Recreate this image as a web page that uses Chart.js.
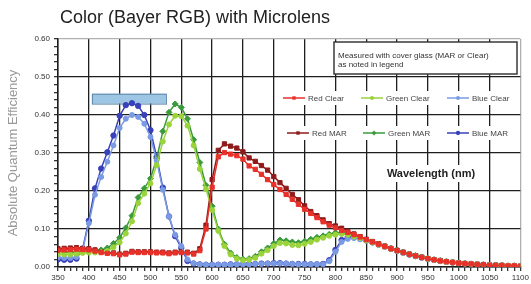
<!DOCTYPE html>
<html>
<head>
<meta charset="utf-8">
<title>Color (Bayer RGB) with Microlens</title>
<script src="https://cdn.jsdelivr.net/npm/chart.js"></script>
<style>
  html, body { margin: 0; padding: 0; background: #fff; }
  .chart-box { width: 531px; height: 284px; position: relative; }
</style>
</head>
<body>
<div class="chart-box"><canvas id="qeChart"></canvas></div>
<script>
// wavelength in nm, one reading every 10 nm
const wavelengths = [350, 360, 370, 380, 390, 400, 410, 420, 430, 440, 450, 460, 470, 480, 490, 500,
  510, 520, 530, 540, 550, 560, 570, 580, 590, 600, 610, 620, 630, 640, 650, 660, 670, 680, 690, 700,
  710, 720, 730, 740, 750, 760, 770, 780, 790, 800, 810, 820, 830, 840, 850, 860, 870, 880, 890, 900,
  910, 920, 930, 940, 950, 960, 970, 980, 990, 1000, 1010, 1020, 1030, 1040, 1050, 1060, 1070, 1080, 1090, 1100];

const redClear = [0.044, 0.045, 0.046, 0.047, 0.046, 0.045,
  0.042, 0.038, 0.036, 0.035, 0.032, 0.034, 0.039, 0.038, 0.038, 0.038,
  0.037, 0.037, 0.035, 0.037, 0.038, 0.037, 0.034, 0.043, 0.100, 0.210,
  0.290, 0.301, 0.297, 0.293, 0.284, 0.266, 0.257, 0.244, 0.230, 0.217,
  0.204, 0.191, 0.178, 0.165, 0.152, 0.141, 0.130, 0.119, 0.110, 0.103,
  0.096, 0.091, 0.085, 0.079, 0.072, 0.066, 0.060, 0.054, 0.048, 0.043,
  0.038, 0.033, 0.029, 0.025, 0.022, 0.019, 0.016, 0.014, 0.012, 0.010,
  0.009, 0.008, 0.007, 0.006, 0.005, 0.004, 0.004, 0.003, 0.003, 0.002];

const greenClear = [0.034, 0.033, 0.033, 0.035, 0.037, 0.038,
  0.038, 0.039, 0.042, 0.052, 0.065, 0.088, 0.120, 0.168, 0.193, 0.220,
  0.268, 0.330, 0.375, 0.398, 0.397, 0.372, 0.320, 0.258, 0.205, 0.150,
  0.095, 0.055, 0.033, 0.022, 0.018, 0.019, 0.024, 0.035, 0.044, 0.055,
  0.063, 0.062, 0.058, 0.057, 0.061, 0.066, 0.072, 0.077, 0.082, 0.085,
  0.087, 0.085, 0.080, 0.076, 0.070, 0.065, 0.059, 0.054, 0.048, 0.043,
  0.038, 0.033, 0.029, 0.025, 0.022, 0.019, 0.016, 0.014, 0.012, 0.010,
  0.009, 0.008, 0.007, 0.006, 0.005, 0.004, 0.004, 0.003, 0.003, 0.002];

const blueClear = [0.025, 0.024, 0.024, 0.026, 0.045, 0.115,
  0.190, 0.237, 0.277, 0.320, 0.366, 0.390, 0.400, 0.395, 0.377, 0.342,
  0.281, 0.203, 0.133, 0.085, 0.055, 0.020, 0.010, 0.007, 0.006, 0.006,
  0.006, 0.006, 0.006, 0.007, 0.007, 0.007, 0.008, 0.008, 0.009, 0.009,
  0.009, 0.009, 0.008, 0.007, 0.007, 0.007, 0.007, 0.007, 0.015, 0.040,
  0.066, 0.074, 0.076, 0.073, 0.069, 0.064, 0.058, 0.053, 0.047, 0.042,
  0.037, 0.032, 0.028, 0.024, 0.021, 0.018, 0.016, 0.013, 0.011, 0.010,
  0.009, 0.008, 0.007, 0.006, 0.005, 0.004, 0.003, 0.003, 0.003, 0.002];

const redMAR = [0.048, 0.049, 0.050, 0.051, 0.049, 0.048,
  0.045, 0.040, 0.038, 0.037, 0.034, 0.036, 0.041, 0.040, 0.040, 0.040,
  0.039, 0.039, 0.037, 0.039, 0.040, 0.039, 0.036, 0.048, 0.110, 0.230,
  0.307, 0.324, 0.318, 0.313, 0.303, 0.287, 0.278, 0.267, 0.255, 0.238,
  0.222, 0.207, 0.191, 0.177, 0.161, 0.146, 0.135, 0.124, 0.114, 0.108,
  0.102, 0.094, 0.087, 0.080, 0.073, 0.067, 0.061, 0.055, 0.049, 0.044,
  0.039, 0.034, 0.030, 0.026, 0.022, 0.019, 0.017, 0.014, 0.012, 0.011,
  0.009, 0.008, 0.007, 0.006, 0.005, 0.005, 0.004, 0.003, 0.003, 0.002];

const greenMAR = [0.042, 0.040, 0.039, 0.040, 0.042, 0.042,
  0.043, 0.045, 0.050, 0.062, 0.077, 0.103, 0.135, 0.183, 0.207, 0.233,
  0.285, 0.357, 0.407, 0.429, 0.420, 0.390, 0.335, 0.275, 0.215, 0.160,
  0.100, 0.060, 0.037, 0.025, 0.021, 0.022, 0.028, 0.040, 0.050, 0.062,
  0.071, 0.069, 0.066, 0.064, 0.068, 0.073, 0.078, 0.082, 0.086, 0.090,
  0.091, 0.087, 0.082, 0.077, 0.071, 0.066, 0.060, 0.055, 0.049, 0.044,
  0.039, 0.034, 0.030, 0.026, 0.022, 0.019, 0.017, 0.014, 0.012, 0.011,
  0.009, 0.008, 0.007, 0.006, 0.005, 0.005, 0.004, 0.003, 0.003, 0.002];

const blueMAR = [0.020, 0.019, 0.019, 0.022, 0.048, 0.122,
  0.207, 0.259, 0.302, 0.346, 0.398, 0.426, 0.431, 0.424, 0.400, 0.360,
  0.290, 0.209, 0.133, 0.081, 0.050, 0.016, 0.009, 0.007, 0.006, 0.006,
  0.006, 0.006, 0.007, 0.007, 0.007, 0.008, 0.008, 0.009, 0.009, 0.010,
  0.010, 0.009, 0.008, 0.008, 0.008, 0.007, 0.007, 0.008, 0.018, 0.045,
  0.071, 0.079, 0.079, 0.075, 0.070, 0.065, 0.059, 0.054, 0.048, 0.043,
  0.038, 0.033, 0.029, 0.025, 0.022, 0.019, 0.016, 0.014, 0.012, 0.010,
  0.009, 0.008, 0.007, 0.006, 0.005, 0.004, 0.004, 0.003, 0.003, 0.002];

const xTickLabels = [350, 400, 450, 500, 550, 600, 650, 700, 750, 800, 850, 900, 950, 1000, 1050, 1100];
const yTickLabels = ['0.00', '0.10', '0.20', '0.30', '0.40', '0.50', '0.60'];

const FONT = '"Liberation Sans", Arial, sans-serif';

function series(label, values, color, shape, radius) {
  return {
    label: label,
    data: wavelengths.map((w, i) => ({ x: w, y: values[i] })),
    borderColor: color,
    backgroundColor: color,
    borderWidth: 1.5,
    pointStyle: shape,
    pointRadius: radius,
    pointBorderWidth: 1,
    tension: 0
  };
}

// top row of the legend first, then the bottom row
const datasets = [
  series('Red Clear', redClear, '#e8312a', 'rect', 3.0),
  series('Green Clear', greenClear, '#9bd33a', 'circle', 2.5),
  series('Blue Clear', blueClear, '#7a9be3', 'circle', 2.5),
  series('Red MAR', redMAR, '#8e1b1b', 'rect', 3.0),
  series('Green MAR', greenMAR, '#3b9a3b', 'rectRot', 3.0),
  series('Blue MAR', blueMAR, '#3a41b8', 'circle', 2.7)
];

function drawMarker(ctx, style, x, y, r) {
  ctx.beginPath();
  if (style === 'rect') {
    const s = r * Math.SQRT1_2;
    ctx.rect(x - s, y - s, 2 * s, 2 * s);
  } else if (style === 'rectRot') {
    ctx.moveTo(x, y - r); ctx.lineTo(x + r, y); ctx.lineTo(x, y + r); ctx.lineTo(x - r, y);
    ctx.closePath();
  } else {
    ctx.arc(x, y, r, 0, Math.PI * 2);
  }
  ctx.fill();
}

const legendRows = [{ y: 98, xs: [283, 361, 447] }, { y: 133, xs: [287, 363, 447] }];

const overlay = {
  id: 'overlay',
  beforeDatasetsDraw(chart) {
    const { ctx, scales: { x, y } } = chart;
    ctx.save();

    // light blue bar above the blue peak
    const bx = x.getPixelForValue(405), bw = x.getPixelForValue(525) - bx;
    const by = y.getPixelForValue(0.456), bh = y.getPixelForValue(0.430) - by;
    ctx.fillStyle = '#9cc6e4';
    ctx.fillRect(bx, by, bw, bh);
    ctx.strokeStyle = '#5d86a8';
    ctx.lineWidth = 1;
    ctx.strokeRect(bx + 0.5, by + 0.5, bw, bh);

    // note box
    ctx.fillStyle = '#fff';
    ctx.fillRect(334, 42, 183, 32);
    ctx.strokeStyle = '#3a3a3a';
    ctx.lineWidth = 1.5;
    ctx.strokeRect(334, 42, 183, 32);
    ctx.fillStyle = '#333';
    ctx.font = '8px ' + FONT;
    ctx.textBaseline = 'middle';
    ctx.textAlign = 'left';
    ctx.fillText('Measured with cover glass (MAR or Clear)', 338, 56);
    ctx.fillText('as noted in legend', 338, 65);

    // legend rows
    legendRows.forEach((row, r) => {
      ctx.fillStyle = '#fff';
      ctx.fillRect(280, row.y - 7, 239, 14);
      row.xs.forEach((lx, c) => {
        const ds = chart.data.datasets[r * 3 + c];
        ctx.strokeStyle = ds.borderColor;
        ctx.lineWidth = 1.5;
        ctx.beginPath();
        ctx.moveTo(lx, row.y);
        ctx.lineTo(lx + 22, row.y);
        ctx.stroke();
        ctx.fillStyle = ds.borderColor;
        drawMarker(ctx, ds.pointStyle, lx + 11, row.y, ds.pointRadius * 0.8);
        ctx.fillStyle = '#444';
        ctx.font = '8px ' + FONT;
        ctx.fillText(ds.label, lx + 25, row.y + 0.5);
      });
    });

    // axis caption inside the plot
    ctx.fillStyle = '#fff';
    ctx.fillRect(380, 165, 102, 17);
    ctx.fillStyle = '#222';
    ctx.font = 'bold 11px ' + FONT;
    ctx.textAlign = 'center';
    ctx.fillText('Wavelength (nm)', 431, 173.5);
    ctx.restore();
  },
  afterDraw(chart) {
    const ctx = chart.ctx;
    ctx.save();
    ctx.fillStyle = '#222';
    ctx.font = '18px ' + FONT;
    ctx.textBaseline = 'alphabetic';
    ctx.fillText('Color (Bayer RGB) with Microlens', 60, 23);
    ctx.restore();
  }
};

const isMajor = (v, step) => Math.abs(v / step - Math.round(v / step)) < 1e-6;

new Chart(document.getElementById('qeChart'), {
  type: 'line',
  data: { datasets: datasets },
  options: {
    responsive: true,
    maintainAspectRatio: false,
    animation: false,
    devicePixelRatio: 1,
    layout: { padding: { top: 39, right: 10, left: 0, bottom: 0 } },
    plugins: {
      legend: { display: false },
      title: { display: false },
      tooltip: { enabled: false }
    },
    scales: {
      x: {
        type: 'linear',
        min: 350,
        max: 1100,
        afterFit: s => { s.height = 17; },
        ticks: {
          stepSize: 10,
          maxTicksLimit: 100,
          autoSkip: false,
          maxRotation: 0,
          padding: 2,
          color: '#333',
          font: { family: FONT, size: 8 },
          callback: v => xTickLabels.includes(v) ? String(v) : ''
        },
        grid: {
          color: c => c.tick.value === 1100 ? '#b0b0b0' : (isMajor(c.tick.value, 50) ? '#1e1e1e' : 'rgba(0,0,0,0)'),
          lineWidth: 1.3,
          tickColor: '#333',
          tickLength: 4
        },
        border: { color: '#1e1e1e', width: 1.5 }
      },
      y: {
        min: 0,
        max: 0.6,
        afterFit: s => { s.width = 58; },
        ticks: {
          stepSize: 0.02,
          maxTicksLimit: 100,
          autoSkip: false,
          padding: 4,
          color: '#333',
          font: { family: FONT, size: 8 },
          callback: v => isMajor(v, 0.1) ? yTickLabels[Math.round(v * 10)] : ''
        },
        grid: {
          color: c => c.tick.value >= 0.6 ? '#b0b0b0' : (isMajor(c.tick.value, 0.1) ? '#1e1e1e' : 'rgba(0,0,0,0)'),
          lineWidth: 1.3,
          tickColor: '#333',
          tickLength: 4
        },
        border: { color: '#1e1e1e', width: 1.5 },
        title: {
          display: true,
          text: 'Absolute Quantum Efficiency',
          color: '#999',
          font: { family: FONT, size: 13 },
          padding: { top: 6, bottom: 0 }
        }
      }
    }
  },
  plugins: [overlay]
});
</script>
</body>
</html>
